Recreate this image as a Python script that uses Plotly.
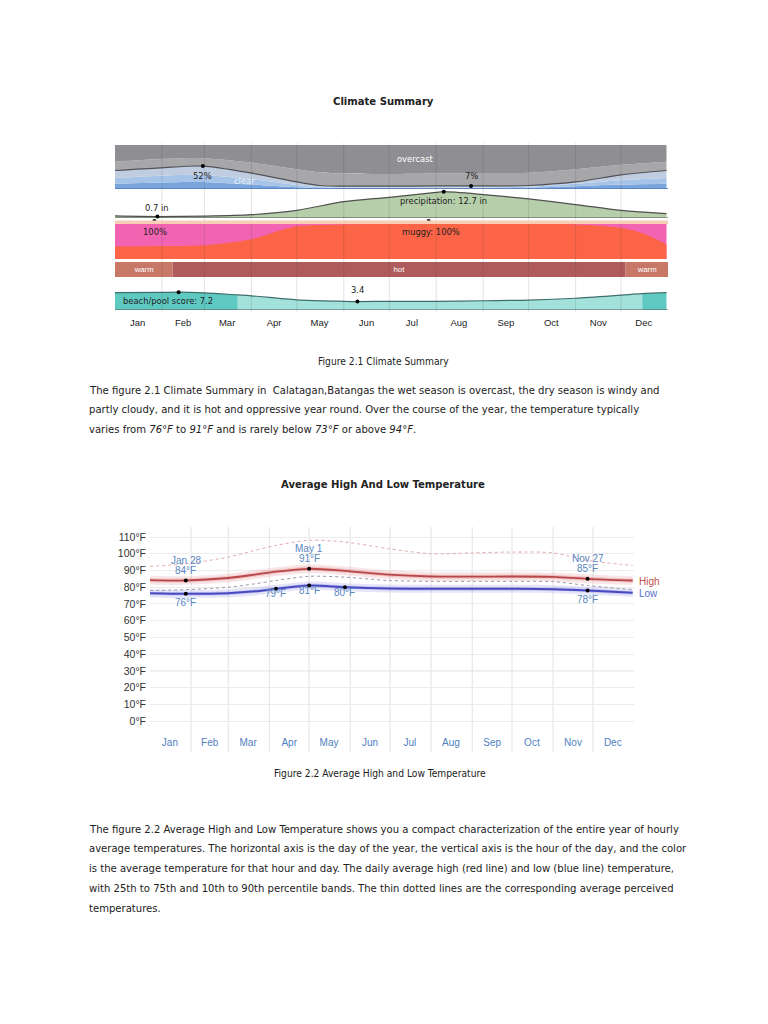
import plotly.graph_objects as go

# page body has an 8px margin; figure sized so nothing scrolls
OX, OY = 8, 8
FW, FH = 752, 1008

# ---------------- DATA ----------------
months = ["Jan", "Feb", "Mar", "Apr", "May", "Jun", "Jul", "Aug", "Sep", "Oct", "Nov", "Dec"]
month_start = [0, 31, 59, 90, 120, 151, 181, 212, 243, 273, 304, 334]
month_mid = [15, 45, 74, 105, 135, 166, 196, 227, 258, 288, 319, 349]

# Climate summary: cloud cover (cumulative fraction from bottom)
cloud_days = [0, 30, 58, 90, 120, 135, 151, 181, 212, 235, 273, 304, 334, 364]
cloud_clear = [0.12, 0.15, 0.16, 0.10, 0.04, 0.02, 0.015, 0.015, 0.015, 0.02, 0.03, 0.06, 0.10, 0.12]
cloud_mostly_clear = [0.25, 0.30, 0.32, 0.22, 0.09, 0.04, 0.03, 0.03, 0.03, 0.035, 0.05, 0.12, 0.20, 0.25]
cloud_partly = [0.42, 0.48, 0.52, 0.36, 0.16, 0.08, 0.065, 0.065, 0.07, 0.07, 0.08, 0.16, 0.32, 0.42]
cloud_mostly_cloudy = [0.62, 0.68, 0.70, 0.60, 0.45, 0.38, 0.35, 0.34, 0.35, 0.36, 0.37, 0.45, 0.55, 0.62]
cloud_overcast = [1.0] * 14

# precipitation (inches)
precip_days = [0, 28, 60, 90, 120, 151, 181, 212, 217, 243, 273, 304, 334, 364]
precip_in = [1.0, 0.7, 0.9, 1.6, 3.7, 7.9, 10.0, 12.4, 12.7, 11.3, 9.2, 6.5, 3.7, 2.1]

# muggy (% of time): miserable part and total
muggy_days = [0, 30, 59, 90, 105, 120, 151, 181, 212, 243, 273, 304, 334, 350, 364]
muggy_miserable = [33, 34, 36, 52, 70, 86, 91, 92, 92, 92, 92, 91, 82, 65, 38]
muggy_total = [100] * 15

# temperature category segments
temp_start = [0, 38, 337]
temp_end = [38, 337, 365]
temp_cat = ["warm", "hot", "warm"]

# beach/pool score
beach_days = [0, 31, 42, 59, 81, 90, 120, 151, 160, 181, 212, 243, 273, 304, 334, 348, 364]
beach_score = [7.0, 7.1, 7.2, 6.9, 6.1, 5.75, 4.1, 3.5, 3.4, 3.5, 3.5, 3.75, 4.0, 4.75, 6.0, 6.6, 7.0]
beach_good_until = 81
beach_good_from = 348

# Average high / low temperature (°F)
temp_days = [0, 27, 59, 79, 95, 120, 147, 180, 212, 243, 273, 304, 330, 364]
high = [84.2, 84.0, 85.5, 87.5, 89.3, 91.0, 89.8, 87.5, 86.4, 86.3, 86.4, 86.2, 85.0, 84.0]
high_p25 = [83.0, 82.8, 84.3, 86.3, 88.1, 89.8, 88.6, 86.3, 85.2, 85.1, 85.2, 85.0, 83.8, 82.8]
high_p75 = [85.4, 85.2, 86.7, 88.7, 90.5, 92.2, 91.0, 88.7, 87.6, 87.5, 87.6, 87.4, 86.2, 85.2]
high_p10 = [81.6, 81.4, 82.9, 84.9, 86.7, 88.4, 87.2, 84.9, 83.8, 83.7, 83.8, 83.6, 82.4, 81.4]
high_p90 = [86.8, 86.6, 88.1, 90.1, 91.9, 93.6, 92.4, 90.1, 89.0, 88.9, 89.0, 88.8, 87.6, 86.6]
low = [76.3, 76.0, 76.4, 77.5, 79.0, 81.0, 80.0, 79.2, 79.0, 79.0, 79.0, 78.8, 78.0, 76.6]
low_p25 = [75.3, 75.0, 75.4, 76.5, 78.0, 80.0, 79.0, 78.2, 78.0, 78.0, 78.0, 77.8, 77.0, 75.6]
low_p75 = [77.3, 77.0, 77.4, 78.5, 80.0, 82.0, 81.0, 80.2, 80.0, 80.0, 80.0, 79.8, 79.0, 77.6]
low_p10 = [73.9, 73.6, 74.0, 75.1, 76.6, 78.6, 77.6, 76.8, 76.6, 76.6, 76.6, 76.4, 75.6, 74.2]
low_p90 = [78.7, 78.4, 78.8, 79.9, 81.4, 83.4, 82.4, 81.6, 81.4, 81.4, 81.4, 81.2, 80.4, 79.0]
perceived_high = [92.5, 94.0, 98.0, 102.0, 105.0, 108.0, 107.0, 103.0, 100.0, 100.5, 101.0, 100.5, 96.0, 93.0]
perceived_low = [78.0, 78.5, 80.0, 82.0, 84.0, 86.5, 86.0, 84.0, 83.5, 83.5, 83.5, 83.3, 81.0, 78.5]

temp_ticks = [0, 10, 20, 30, 40, 50, 60, 70, 80, 90, 100, 110]
temp_tick_text = [f"{t}°F" for t in temp_ticks]

# highlighted points (index into temp_days)
hi_marks = [(1, "Jan 28"), (5, "May 1"), (12, "Nov 27")]
lo_marks = [1, 4, 5, 6, 12]

# ---------------- HELPERS ----------------
def px_x(p):
    return (p - OX) / FW

def px_y(p):
    return 1 - (p - OY) / FH

fig = go.Figure()
SPL = dict(shape="spline", smoothing=0.8)

# Chart 1 geometry (page pixels)
C1_L, C1_R = 115, 668
bands = {
    "y":  (145, 189),   # cloud
    "y2": (189, 218),   # precip
    "y3": (221, 259),   # muggy
    "y4": (262, 277),   # temperature category
    "y5": (289, 310),   # beach
}

# ----- cloud band -----
cloud_layers = [
    (cloud_clear, "#7aa5dc"),
    (cloud_mostly_clear, "#a6c3e8"),
    (cloud_partly, "#c0cde0"),
    (cloud_mostly_cloudy, "#a7a7aa"),
    (cloud_overcast, "#8f8f93"),
]
prev = None
for vals, col in cloud_layers:
    fig.add_trace(go.Scatter(x=cloud_days, y=vals, xaxis="x", yaxis="y", mode="lines",
                             line=dict(width=0, color=col, **SPL),
                             fill="tozeroy" if prev is None else "tonexty",
                             fillcolor=col, hoverinfo="skip", showlegend=False))
    prev = vals
fig.add_trace(go.Scatter(x=[0, 365], y=[0.0, 0.0], xaxis="x", yaxis="y", mode="lines",
                         line=dict(width=2, color="#5b87c5"), showlegend=False, hoverinfo="skip"))
fig.add_trace(go.Scatter(x=cloud_days, y=cloud_partly, xaxis="x", yaxis="y", mode="lines",
                         line=dict(width=1.2, color="#505058", **SPL), showlegend=False, hoverinfo="skip"))
i52 = 2
i7 = 9
fig.add_trace(go.Scatter(x=[cloud_days[i52], cloud_days[i7]], y=[cloud_partly[i52], cloud_partly[i7]],
                         xaxis="x", yaxis="y", mode="markers",
                         marker=dict(size=4, color="black"), showlegend=False, hoverinfo="skip"))

# ----- precipitation band -----
fig.add_trace(go.Scatter(x=precip_days, y=precip_in, xaxis="x", yaxis="y2", mode="lines",
                         line=dict(width=1.2, color="#505050", **SPL), fill="tozeroy",
                         fillcolor="#b6cfaa", showlegend=False, hoverinfo="skip"))
fig.add_trace(go.Scatter(x=[0, 365], y=[0, 0], xaxis="x", yaxis="y2", mode="lines",
                         line=dict(width=1.2, color="#505050"), showlegend=False, hoverinfo="skip"))
ip_min, ip_max = 1, 8
fig.add_trace(go.Scatter(x=[precip_days[ip_min], precip_days[ip_max]], y=[precip_in[ip_min], precip_in[ip_max]],
                         xaxis="x", yaxis="y2", mode="markers", marker=dict(size=4, color="black"),
                         showlegend=False, hoverinfo="skip", cliponaxis=False))

# ----- muggy band -----
fig.add_trace(go.Scatter(x=muggy_days, y=muggy_total, xaxis="x", yaxis="y3", mode="lines",
                         line=dict(width=0, color="#f064b4"), fill="tozeroy", fillcolor="#f264b2",
                         showlegend=False, hoverinfo="skip"))
fig.add_trace(go.Scatter(x=muggy_days, y=muggy_miserable, xaxis="x", yaxis="y3", mode="lines",
                         line=dict(width=0, color="#fb6446", **SPL), fill="tozeroy", fillcolor="#fb6446",
                         showlegend=False, hoverinfo="skip"))
fig.add_trace(go.Scatter(x=[26, 207], y=[100, 100], xaxis="x", yaxis="y3", mode="markers",
                         marker=dict(size=4, color="black"), showlegend=False, hoverinfo="skip", cliponaxis=False))

# ----- temperature category band -----
cat_col = {"warm": "#c87867", "hot": "#b05b5b"}
for s, e, c in zip(temp_start, temp_end, temp_cat):
    fig.add_trace(go.Bar(y=[0], x=[e - s], base=[s], orientation="h", xaxis="x", yaxis="y4",
                         marker=dict(color=cat_col[c], line=dict(width=0)), width=1,
                         text=[c], textposition="inside", insidetextanchor="middle",
                         textfont=dict(color="white", size=9.5, family="Liberation Sans, Arial"),
                         showlegend=False, hoverinfo="skip"))

# ----- beach band -----
def seg(lo, hi):
    xs = [d for d in beach_days if lo <= d <= hi]
    ys = [v for d, v in zip(beach_days, beach_score) if lo <= d <= hi]
    return xs, ys

for lo_, hi_, col in [(0, beach_good_until, "#5ec9c1"), (beach_good_until, beach_good_from, "#a3e2da"),
                      (beach_good_from, 365, "#5ec9c1")]:
    xs, ys = seg(lo_, hi_)
    fig.add_trace(go.Scatter(x=xs, y=ys, xaxis="x", yaxis="y5", mode="lines",
                             line=dict(width=0, color=col, **SPL), fill="tozeroy", fillcolor=col,
                             showlegend=False, hoverinfo="skip"))
fig.add_trace(go.Scatter(x=beach_days, y=beach_score, xaxis="x", yaxis="y5", mode="lines",
                         line=dict(width=1.2, color="#3f6f6c", **SPL), showlegend=False, hoverinfo="skip"))
fig.add_trace(go.Scatter(x=[0, 365], y=[0, 0], xaxis="x", yaxis="y5", mode="lines",
                         line=dict(width=1.2, color="#555"), showlegend=False, hoverinfo="skip"))
ib_max, ib_min = 2, 8
fig.add_trace(go.Scatter(x=[beach_days[ib_max], beach_days[ib_min]], y=[beach_score[ib_max], beach_score[ib_min]],
                         xaxis="x", yaxis="y5", mode="markers", marker=dict(size=4, color="black"),
                         showlegend=False, hoverinfo="skip"))

# ---------------- Chart 2 ----------------
C2_L, C2_R = 150, 634
C2_T, C2_B = 527, 733
y0px, y110px = 721, 537
ppd = (y0px - y110px) / 110
c2_range = [-(C2_B - y0px) / ppd, 110 + (y110px - C2_T) / ppd]

def band(lo_vals, hi_vals, col):
    fig.add_trace(go.Scatter(x=temp_days, y=lo_vals, xaxis="x2", yaxis="y6", mode="lines",
                             line=dict(width=0, **SPL), showlegend=False, hoverinfo="skip"))
    fig.add_trace(go.Scatter(x=temp_days, y=hi_vals, xaxis="x2", yaxis="y6", mode="lines",
                             line=dict(width=0, **SPL), fill="tonexty", fillcolor=col,
                             showlegend=False, hoverinfo="skip"))

band(high_p10, high_p90, "rgba(230,150,150,0.25)")
band(high_p25, high_p75, "rgba(220,120,120,0.30)")
band(low_p10, low_p90, "rgba(150,150,235,0.25)")
band(low_p25, low_p75, "rgba(120,120,225,0.32)")

fig.add_trace(go.Scatter(x=temp_days, y=perceived_high, xaxis="x2", yaxis="y6", mode="lines",
                         line=dict(width=0.9, color="#e0a0a0", dash="dot", **SPL), showlegend=False, hoverinfo="skip"))
fig.add_trace(go.Scatter(x=temp_days, y=perceived_low, xaxis="x2", yaxis="y6", mode="lines",
                         line=dict(width=0.9, color="#8f8aa0", dash="dot", **SPL), showlegend=False, hoverinfo="skip"))
fig.add_trace(go.Scatter(x=temp_days, y=high, xaxis="x2", yaxis="y6", mode="lines",
                         line=dict(width=1.8, color="#b8474a", **SPL), showlegend=False, hoverinfo="skip"))
fig.add_trace(go.Scatter(x=temp_days, y=low, xaxis="x2", yaxis="y6", mode="lines",
                         line=dict(width=2, color="#4a4ac0", **SPL), showlegend=False, hoverinfo="skip"))

fig.add_trace(go.Scatter(x=[temp_days[i] for i, _ in hi_marks], y=[high[i] for i, _ in hi_marks],
                         xaxis="x2", yaxis="y6", mode="markers", marker=dict(size=4, color="black"),
                         showlegend=False, hoverinfo="skip"))
fig.add_trace(go.Scatter(x=[temp_days[i] for i in lo_marks], y=[low[i] for i in lo_marks],
                         xaxis="x2", yaxis="y6", mode="markers", marker=dict(size=4, color="black"),
                         showlegend=False, hoverinfo="skip"))

# ---------------- LAYOUT ----------------
hidden = dict(showgrid=False, zeroline=False, showticklabels=False, ticks="", showline=False, fixedrange=True)

layout = dict(
    width=FW, height=FH, margin=dict(l=0, r=0, t=0, b=0),
    paper_bgcolor="white", plot_bgcolor="rgba(0,0,0,0)",
    barmode="overlay", showlegend=False,
    font=dict(family="Liberation Sans, Arial, sans-serif", color="#222"),
    xaxis=dict(domain=[px_x(C1_L), px_x(C1_R)], range=[0, 365], anchor="y5",
               tickmode="array", tickvals=month_mid, ticktext=months, showgrid=False, zeroline=False,
               ticks="", showline=False, ticklabelstandoff=5,
               tickfont=dict(size=9.5, color="#222", family="Liberation Sans, Arial")),
    xaxis2=dict(domain=[px_x(C2_L), px_x(C2_R)], range=[0, 365], anchor="y6",
                tickmode="array", tickvals=month_mid, ticktext=months, showgrid=False, zeroline=False,
                ticks="", showline=False, ticklabelstandoff=2,
                tickfont=dict(size=10, color="#4f7fbf", family="Liberation Sans, Arial")),
)
yr = {"y": [0, 1], "y2": [0, 14], "y3": [0, 100], "y4": [-0.5, 0.5], "y5": [0, 8.5]}
for k, (t, b) in bands.items():
    name = "yaxis" if k == "y" else "yaxis" + k[1:]
    layout[name] = dict(domain=[px_y(b), px_y(t)], range=yr[k], anchor="x", **hidden)
layout["yaxis6"] = dict(domain=[px_y(C2_B), px_y(C2_T)], range=c2_range, anchor="x2",
                        tickmode="array", tickvals=temp_ticks, ticktext=temp_tick_text,
                        showgrid=True, gridcolor="#ececec", gridwidth=1, zeroline=False, ticks="",
                        ticklabelstandoff=3,
                        tickfont=dict(size=10.5, color="#333", family="Liberation Sans, Arial"))
fig.update_layout(**layout)

shapes = []
for d in month_start[1:]:
    shapes.append(dict(type="line", xref="x", yref="paper", x0=d, x1=d, y0=px_y(312), y1=px_y(143),
                       line=dict(color="rgba(60,60,60,0.15)", width=1), layer="above"))
shapes.append(dict(type="rect", xref="x", yref="paper", x0=0, x1=365, y0=px_y(224), y1=px_y(220.5),
                   fillcolor="#f6cdb5", line=dict(width=0), layer="above"))
for d in month_start[1:]:
    shapes.append(dict(type="line", xref="x2", yref="paper", x0=d, x1=d, y0=px_y(752), y1=px_y(527),
                       line=dict(color="#e2e2e2", width=1), layer="below"))
shapes.append(dict(type="line", xref="x2", yref="y6", x0=0, x1=365, y0=30, y1=30,
                   line=dict(color="#d4d4d4", width=1), layer="below"))
fig.update_layout(shapes=shapes)

NARROW = "Liberation Sans Narrow, Arial Narrow, DejaVu Sans Condensed"
ann = []

def txt(x, y, s, size=9.3, color="#222", xanchor="center", family=NARROW, xref="paper", yref="paper", **kw):
    d = dict(x=x, y=y, text=s, showarrow=False, xanchor=xanchor, yanchor="middle", xref=xref, yref=yref,
             font=dict(size=size, color=color, family=family))
    d.update(kw)
    ann.append(d)

# chart 1 labels
txt(px_x(415), px_y(158), "overcast", color="white")
txt(px_x(244), px_y(180), "clear", color="#e8f0fa")
txt(cloud_days[i52], cloud_partly[i52], f"{round(cloud_partly[i52]*100)}%", xref="x", yref="y", yshift=-9)
txt(cloud_days[i7], cloud_partly[i7], f"{round(cloud_partly[i7]*100)}%", xref="x", yref="y", yshift=10)
txt(precip_days[ip_min], precip_in[ip_min], f"{precip_in[ip_min]} in", xref="x", yref="y2", yshift=9)
txt(precip_days[ip_max], precip_in[ip_max], f"precipitation: {precip_in[ip_max]} in", xref="x", yref="y2", yshift=-9)
txt(px_x(155), px_y(231), "100%")
txt(px_x(431), px_y(231), "muggy: 100%")
txt(beach_days[ib_max] - 7, beach_score[ib_max], f"beach/pool score: {beach_score[ib_max]}", xref="x", yref="y5", yshift=-8)
txt(beach_days[ib_min], beach_score[ib_min], f"{beach_score[ib_min]}", xref="x", yref="y5", yshift=12)

# chart 2 labels
LBL = "#5a87c2"
SANS = "Liberation Sans, Arial"
for i, nm in hi_marks:
    txt(temp_days[i], high[i], f"{round(high[i])}°F", xref="x2", yref="y6", yshift=10, color=LBL, family=SANS, size=10)
    txt(temp_days[i], high[i], nm, xref="x2", yref="y6", yshift=20, color=LBL, family=SANS, size=10)
for i in lo_marks:
    ys = -9 if i in (1, 12) else -5
    txt(temp_days[i], low[i], f"{round(low[i])}°F", xref="x2", yref="y6", yshift=ys, color=LBL, family=SANS, size=10)
txt(px_x(637), px_y(581), "High", color="#c0504d", xanchor="left", family=SANS, size=10)
txt(px_x(637), px_y(593), "Low", color="#5a6fc8", xanchor="left", family=SANS, size=10)

# page text
BODY = 11.2
txt(px_x(383), px_y(101), "<b>Climate Summary</b>", size=11.2)
txt(px_x(383), px_y(361), "Figure 2.1 Climate Summary", size=10.2)
p1 = [
    "The figure 2.1 Climate Summary in  Calatagan,Batangas the wet season is overcast, the dry season is windy and",
    "partly cloudy, and it is hot and oppressive year round. Over the course of the year, the temperature typically",
    "varies from <i>76°F</i> to <i>91°F</i> and is rarely below <i>73°F</i> or above <i>94°F</i>.",
]
for k, line in enumerate(p1):
    txt(px_x(87), px_y(390 + k * 19.5), line, size=BODY, xanchor="left")
txt(px_x(383), px_y(484), "<b>Average High And Low Temperature</b>", size=11.2)
txt(px_x(380), px_y(773), "Figure 2.2 Average High and Low Temperature", size=10.2)
p2 = [
    "The figure 2.2 Average High and Low Temperature shows you a compact characterization of the entire year of hourly",
    "average temperatures. The horizontal axis is the day of the year, the vertical axis is the hour of the day, and the color",
    "is the average temperature for that hour and day. The daily average high (red line) and low (blue line) temperature,",
    "with 25th to 75th and 10th to 90th percentile bands. The thin dotted lines are the corresponding average perceived",
    "temperatures.",
]
for k, line in enumerate(p2):
    txt(px_x(87), px_y(829 + k * 19.8), line, size=BODY, xanchor="left")

fig.update_layout(annotations=ann)
fig.write_html("out.html")
